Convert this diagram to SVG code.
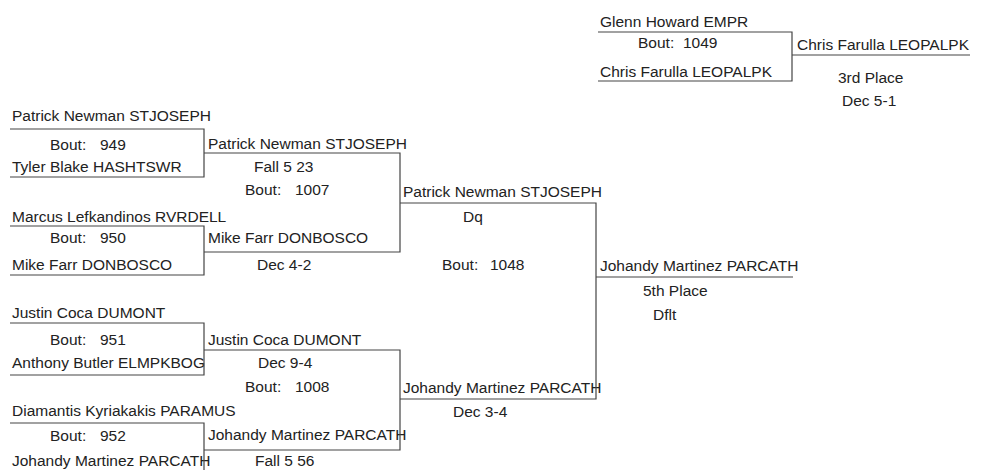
<svg xmlns="http://www.w3.org/2000/svg" width="986" height="470" viewBox="0 0 986 470">
<style>
  text { font-family: "Liberation Sans", Arial, sans-serif; font-size: 15.5px; fill: #222; }
  .ln { stroke: #444; stroke-width: 1.2; fill: none; }
</style>
<rect width="986" height="470" fill="#fff"/>

<g id="bout949">
  <text x="12" y="121">Patrick Newman STJOSEPH</text>
  <text x="50" y="150">Bout:</text><text x="100" y="150">949</text>
  <text x="12" y="172">Tyler Blake HASHTSWR</text>
  <path class="ln" d="M10,129 H204 V177 H10"/>
</g>

<g id="bout950">
  <text x="12" y="222">Marcus Lefkandinos RVRDELL</text>
  <text x="50" y="243">Bout:</text><text x="100" y="243">950</text>
  <text x="12" y="270">Mike Farr DONBOSCO</text>
  <path class="ln" d="M10,226 H204 V275 H10"/>
</g>

<g id="bout951">
  <text x="12" y="318">Justin Coca DUMONT</text>
  <text x="50" y="345">Bout:</text><text x="100" y="345">951</text>
  <text x="12" y="368">Anthony Butler ELMPKBOG</text>
  <path class="ln" d="M10,323 H204 V375 H10"/>
</g>

<g id="bout952">
  <text x="12" y="416">Diamantis Kyriakakis PARAMUS</text>
  <text x="50" y="441">Bout:</text><text x="100" y="441">952</text>
  <text x="12" y="466">Johandy Martinez PARCATH</text>
  <path class="ln" d="M10,423 H204 V470"/>
</g>

<g id="bout1007">
  <text x="208" y="149">Patrick Newman STJOSEPH</text>
  <text x="254" y="172">Fall 5 23</text>
  <text x="245" y="195">Bout:</text><text x="295" y="195">1007</text>
  <text x="208" y="243">Mike Farr DONBOSCO</text>
  <text x="257" y="270">Dec 4-2</text>
</g>

<g id="bout1008">
  <text x="208" y="345">Justin Coca DUMONT</text>
  <text x="258" y="368">Dec 9-4</text>
  <text x="245" y="392">Bout:</text><text x="295" y="392">1008</text>
  <text x="208" y="440">Johandy Martinez PARCATH</text>
  <text x="255" y="466">Fall 5 56</text>
</g>

<g id="bout1048">
  <text x="403" y="197">Patrick Newman STJOSEPH</text>
  <text x="463" y="222">Dq</text>
  <text x="442" y="270">Bout:</text><text x="490" y="270">1048</text>
  <text x="403" y="393">Johandy Martinez PARCATH</text>
  <text x="453" y="417">Dec 3-4</text>
</g>

<g id="place5">
  <text x="600" y="271">Johandy Martinez PARCATH</text>
  <text x="643" y="296">5th Place</text>
  <text x="653" y="320">Dflt</text>
</g>

<g id="bout1049">
  <text x="600" y="27">Glenn Howard EMPR</text>
  <text x="638" y="48">Bout:</text><text x="683" y="48">1049</text>
  <text x="600" y="77">Chris Farulla LEOPALPK</text>
  <path class="ln" d="M598,32 H792 V81 H598"/>
</g>

<g id="place3">
  <text x="797" y="50">Chris Farulla LEOPALPK</text>
  <text x="838" y="83">3rd Place</text>
  <text x="842" y="106">Dec 5-1</text>
</g>

<g id="connectors">
  <path class="ln" d="M204,153 H400 V252 H204"/>
  <path class="ln" d="M204,350 H400 V450 H204"/>
  <path class="ln" d="M400,203 H596 V399 H400"/>
  <path class="ln" d="M596,277 H793"/>
  <path class="ln" d="M792,55 H970"/>
</g>
</svg>
